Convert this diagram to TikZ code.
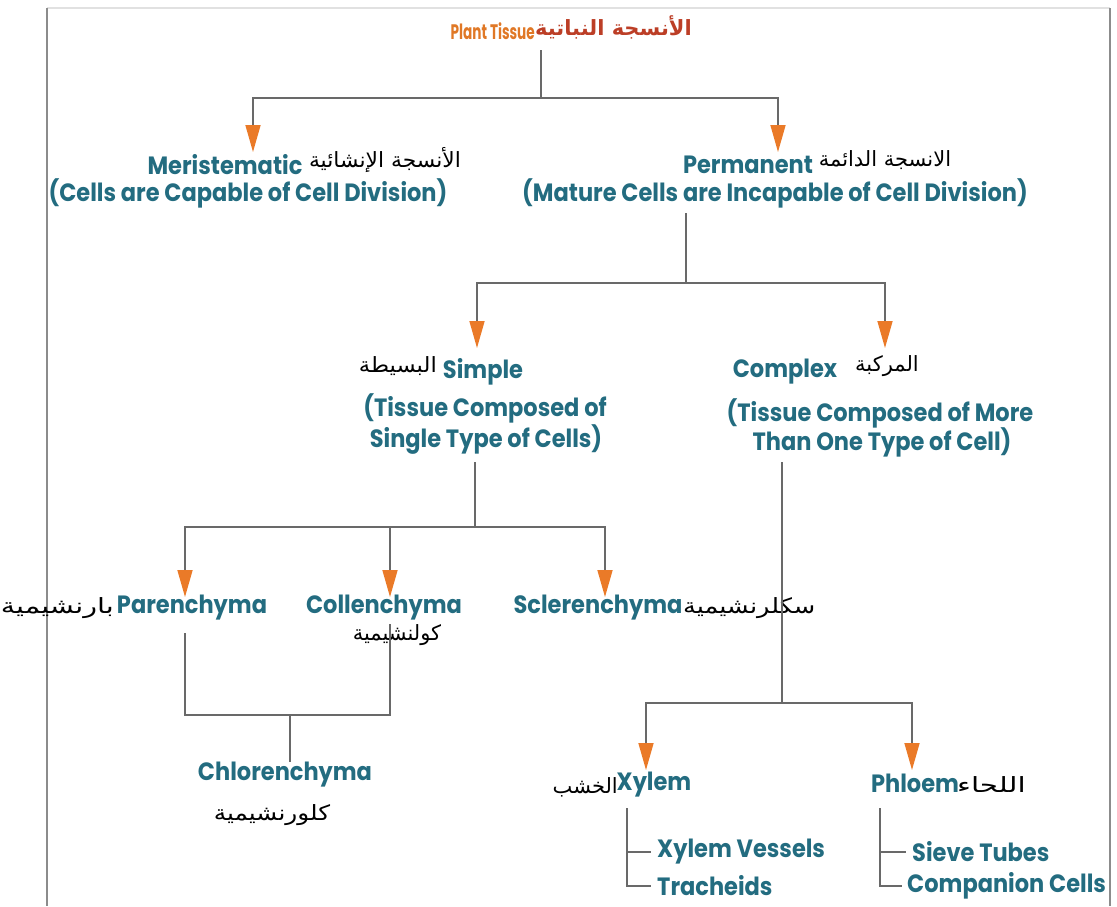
\documentclass[tikz,border=0pt]{standalone}
\usepackage{graphicx}
\usepackage{fontspec}
\setmainfont{Poppins}[FakeStretch=0.9]
\newfontfamily\arabicfont[Script=Arabic]{DejaVu Sans}
\TeXXeTstate=1
\usetikzlibrary{arrows.meta}
\definecolor{tealC}{RGB}{35,108,128}
\definecolor{arrC}{RGB}{234,122,40}
\definecolor{lineC}{RGB}{105,105,105}
\definecolor{frameC}{RGB}{140,140,140}
\definecolor{frameT}{RGB}{225,225,225}
\definecolor{titleE}{RGB}{224,120,38}
\definecolor{titleA}{RGB}{188,62,38}
\tikzset{
  en/.style={font=\fontsize{25}{29}\selectfont\bfseries, text=tealC, inner sep=0pt},
  ar/.style={font=\arabicfont\fontsize{21}{24}\selectfont, text=black, inner sep=0pt},
  ln/.style={draw=lineC, line width=1.6pt},
  arr/.style={ln, -{Triangle[length=27pt,width=15pt,color=arrC,fill=arrC]}},
}
\begin{document}
\begin{tikzpicture}[x=1pt,y=-1pt]
\useasboundingbox (0,0) rectangle (1117,906);
% frame
\draw[frameT, line width=1.2pt] (47,8) -- (1110,8);
\draw[frameC, line width=1.6pt] (47,8) -- (47,906);
\draw[frameC, line width=1.6pt] (1110,8) -- (1110,906);

% title
\node[anchor=east, inner sep=0pt, text=titleE, font=\fontsize{21}{24}\selectfont\bfseries] (ptE) at (535,31) {\scalebox{0.72}[1]{Plant Tissue}};
\node[anchor=west, inner sep=0pt, text=titleA, font=\arabicfont\fontsize{21}{26}\selectfont\bfseries] (ptA) at (535,27) {\beginR الأنسجة النباتية\endR};

% level 1
\node[en] (mer) at (225,165) {Meristematic};
\node[ar] (merA) at (385,160) {\scalebox{1.04}[1]{\beginR الأنسجة الإنشائية\endR}};
\node[en] (merS) at (248,193) {(Cells are Capable of Cell Division)};
\node[en] (per) at (748,165) {Permanent};
\node[ar] (perA) at (885,160) {\beginR الانسجة الدائمة\endR};
\node[en] (perS) at (775,193) {(Mature Cells are Incapable of Cell Division)};

\coordinate (t0) at (541,50);
\coordinate (j1) at (541,98);
\coordinate (merTip) at (253,152);
\coordinate (perTip) at (778,152);
\draw[ln] (t0) -- (j1);
\draw[arr] (j1) -| (merTip);
\draw[arr] (j1) -| (perTip);

% level 2
\node[en] (sim) at (483,372) {Simple};
\node[ar, anchor=east] (simA) at (437,366) {\scalebox{1.08}[1]{\beginR البسيطة\endR}};
\node[en] (simS1) at (485,408) {(Tissue Composed of};
\node[en] (simS2) at (486,440) {Single Type of Cells)};
\node[en] (com) at (785,372) {Complex};
\node[ar] (comA) at (887,366) {\beginR المركبة\endR};
\node[en] (comS1) at (880,413) {(Tissue Composed of More};
\node[en] (comS2) at (882,442) {Than One Type of Cell)};

\coordinate (p0) at (686,213);
\coordinate (j2) at (686,283);
\coordinate (simTip) at (477,348);
\coordinate (comTip) at (885,348);
\draw[ln] (p0) -- (j2);
\draw[arr] (j2) -| (simTip);
\draw[arr] (j2) -| (comTip);

% level 3 (simple)
\node[en] (par) at (192,608) {Parenchyma};
\node[ar, anchor=east] (parA) at (114,608) {\scalebox{1.36}[1]{\beginR بارنشيمية\endR}};
\node[en] (col) at (384,608) {Collenchyma};
\node[ar] (colA) at (397,635) {\beginR كولنشيمية\endR};
\node[en] (scl) at (598,608) {Sclerenchyma};
\node[ar, anchor=west] (sclA) at (683,608) {\scalebox{1.22}[1]{\beginR سكلرنشيمية\endR}};

\coordinate (s0) at (475,462);
\coordinate (j3) at (475,527);
\coordinate (parTip) at (185,597);
\coordinate (colTip) at (390,597);
\coordinate (sclTip) at (605,597);
\draw[ln] (s0) -- (j3);
\draw[arr] (j3) -| (parTip);
\draw[arr] (j3) -| (colTip);
\draw[arr] (j3) -| (sclTip);

% chlorenchyma
\node[en] (chl) at (285,775) {Chlorenchyma};
\node[ar] (chlA) at (272,815) {\scalebox{1.18}[1]{\beginR كلورنشيمية\endR}};
\coordinate (pb) at (185,633);
\coordinate (cb) at (390,624);
\coordinate (j4) at (290,715);
\draw[ln] (pb) |- (j4) -| (cb);
\draw[ln] (j4) -- (chl.north -| j4);

% complex branch
\node[en] (xyl) at (654,785) {Xylem};
\node[ar, anchor=east] (xylA) at (618,787) {\beginR الخشب\endR};
\node[en] (phl) at (915,783) {Phloem};
\node[ar, anchor=west] (phlA) at (957,785) {\scalebox{1.4}[1]{\beginR اللحاء\endR}};

\coordinate (c0) at (782,462);
\coordinate (j5) at (782,703);
\coordinate (xylTip) at (646,770);
\coordinate (phlTip) at (912,770);
\draw[ln] (c0) -- (j5);
\draw[arr] (j5) -| (xylTip);
\draw[arr] (j5) -| (phlTip);

% xylem bracket
\node[en, anchor=west] (xv) at (657,852) {Xylem Vessels};
\node[en, anchor=west] (tr) at (657,886) {Tracheids};
\coordinate (xb) at (627,808);
\draw[ln] (xb) |- ([xshift=-6pt]tr.west);
\draw[ln] (xb |- xv.west) -- ([xshift=-6pt]xv.west);

% phloem bracket
\node[en, anchor=west] (st) at (912,852) {Sieve Tubes};
\node[en, anchor=west] (cc) at (907,886) {Companion Cells};
\coordinate (pbk) at (880,808);
\draw[ln] (pbk) |- ([xshift=-5pt]cc.west);
\draw[ln] (pbk |- st.west) -- ([xshift=-6pt]st.west);
\end{tikzpicture}
\end{document}
